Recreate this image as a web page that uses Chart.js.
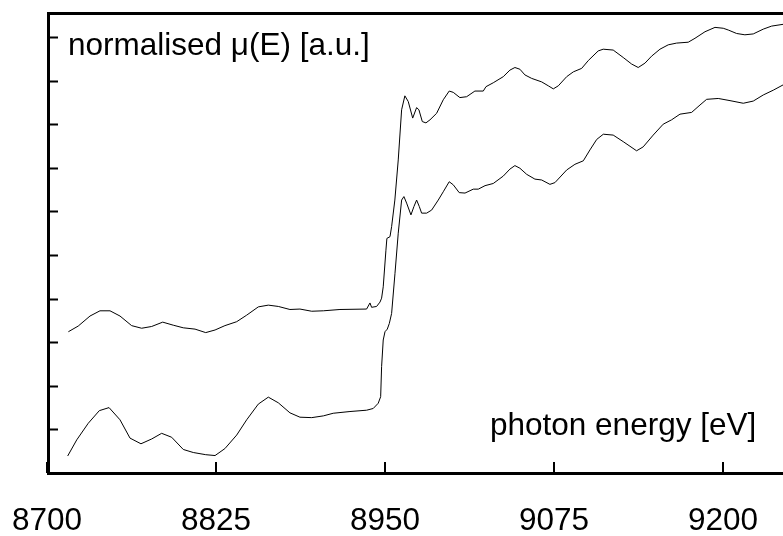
<!DOCTYPE html>
<html>
<head>
<meta charset="utf-8">
<script src="https://cdn.jsdelivr.net/npm/chart.js@4"></script>
<style>
  body { margin: 0; background: #fff; }
  #wrap { width: 783px; height: 536px; }
</style>
</head>
<body>
<div id="wrap"><canvas id="xanes"></canvas></div>
<script>
// ! data

const xTicks = [8700, 8825, 8950, 9075, 9200];
const yTicks = [1, 2, 3, 4, 5, 6, 7, 8, 9, 10];

const upperE = [
  8715.8, 8723.1, 8731.8, 8739.2, 8746.6, 8754.0, 8762.6, 8770.0, 8777.4, 8785.6,
  8793.4, 8800.8, 8809.5, 8817.4, 8824.3, 8831.6, 8840.3, 8847.7, 8856.3, 8863.7,
  8871.1, 8879.7, 8887.1, 8895.8, 8904.4, 8916.7, 8936.4, 8938.9, 8940.1, 8943.8,
  8946.3, 8947.5, 8948.7, 8950.7, 8951.4, 8953.7, 8954.9, 8957.3, 8959.8, 8962.3,
  8964.7, 8967.2, 8970.5, 8973.4, 8975.1, 8977.6, 8980.3, 8983.3, 8988.2, 8993.1,
  8997.5, 9000.5, 9005.4, 9010.4, 9016.5, 9022.7, 9024.7, 9030.1, 9037.5, 9042.4,
  9046.1, 9049.8, 9053.5, 9058.5, 9065.9, 9070.8, 9074.5, 9078.2, 9084.4, 9089.3,
  9095.5, 9100.4, 9107.7, 9111.4, 9118.8, 9126.2, 9132.4, 9137.3, 9142.3, 9147.2,
  9153.4, 9159.5, 9165.7, 9174.3, 9179.3, 9186.7, 9194.1, 9200.2, 9203.9, 9210.1,
  9216.2, 9222.4, 9229.8, 9236.0, 9244.4,
];
const upperMu = [
  3.24, 3.37, 3.60, 3.72, 3.72, 3.60, 3.38, 3.32, 3.36, 3.46,
  3.39, 3.33, 3.30, 3.22, 3.28, 3.38, 3.47, 3.62, 3.81, 3.85,
  3.82, 3.75, 3.76, 3.71, 3.72, 3.75, 3.76, 3.90, 3.80, 3.82,
  3.92, 4.01, 4.27, 5.11, 5.38, 5.42, 5.65, 6.26, 7.18, 8.33,
  8.65, 8.52, 8.14, 8.38, 8.33, 8.06, 8.03, 8.10, 8.25, 8.56,
  8.76, 8.73, 8.61, 8.63, 8.76, 8.76, 8.86, 8.95, 9.09, 9.24,
  9.30, 9.26, 9.13, 9.05, 8.97, 8.88, 8.81, 8.88, 9.09, 9.20,
  9.28, 9.46, 9.68, 9.72, 9.70, 9.53, 9.38, 9.30, 9.40, 9.56,
  9.72, 9.82, 9.86, 9.88, 9.97, 10.12, 10.22, 10.20, 10.16, 10.08,
  10.05, 10.07, 10.18, 10.25, 10.29,
];

const lowerE = [
  8715.3, 8722.0, 8730.5, 8738.7, 8745.9, 8754.0, 8761.4, 8769.5, 8777.4, 8784.8,
  8792.2, 8800.8, 8808.2, 8817.4, 8824.3, 8831.6, 8840.3, 8847.7, 8856.3, 8863.7,
  8871.1, 8879.7, 8887.1, 8895.8, 8904.4, 8911.7, 8924.1, 8936.4, 8941.3, 8945.0,
  8946.8, 8947.5, 8948.7, 8950.0, 8951.7, 8953.2, 8954.9, 8957.4, 8959.8, 8962.3,
  8964.0, 8966.0, 8969.2, 8971.4, 8973.4, 8975.4, 8977.1, 8980.8, 8984.5, 8989.4,
  8993.1, 8997.5, 9000.5, 9004.9, 9009.2, 9015.3, 9019.0, 9024.0, 9030.1, 9037.5,
  9042.4, 9046.1, 9049.8, 9054.8, 9060.9, 9065.9, 9072.0, 9075.7, 9084.4, 9090.5,
  9096.7, 9101.6, 9106.6, 9111.5, 9118.8, 9126.2, 9136.1, 9141.0, 9148.4, 9155.8,
  9162.0, 9168.2, 9176.8, 9183.0, 9187.9, 9196.5, 9205.2, 9215.0, 9222.4, 9229.8,
  9237.2, 9244.4,
];
const lowerMu = [
  0.39, 0.76, 1.14, 1.43, 1.50, 1.22, 0.80, 0.67, 0.78, 0.91,
  0.82, 0.54, 0.47, 0.42, 0.40, 0.56, 0.87, 1.22, 1.58, 1.74,
  1.61, 1.38, 1.28, 1.27, 1.31, 1.37, 1.41, 1.44, 1.48, 1.60,
  1.75, 2.44, 3.05, 3.24, 3.30, 3.43, 3.66, 4.58, 5.50, 6.26,
  6.34, 6.19, 5.92, 6.11, 6.26, 6.11, 5.96, 5.96, 6.03, 6.26,
  6.45, 6.68, 6.61, 6.43, 6.42, 6.51, 6.51, 6.59, 6.64, 6.81,
  6.97, 7.05, 6.99, 6.85, 6.74, 6.72, 6.62, 6.66, 6.95, 7.08,
  7.16, 7.41, 7.65, 7.77, 7.75, 7.60, 7.39, 7.48, 7.75, 8.00,
  8.10, 8.23, 8.27, 8.44, 8.57, 8.59, 8.54, 8.48, 8.53, 8.67,
  8.78, 8.90,
];

const FONT = "Liberation Sans, Arial, Helvetica, sans-serif";

// ! frame, inward ticks and the two captions
const framePlugin = {
  id: "frame",
  afterDraw(chart) {
    const { ctx, chartArea: a, scales } = chart;
    ctx.save();
    ctx.strokeStyle = "#000";
    ctx.lineCap = "butt";

    // ticks
    ctx.lineWidth = 2;
    ctx.beginPath();
    yTicks.forEach((v) => {
      const y = Math.round(scales.y.getPixelForValue(v)) + 0.5;
      ctx.moveTo(a.left, y);
      ctx.lineTo(a.left + 11, y);
    });
    xTicks.forEach((v) => {
      const x = Math.round(scales.x.getPixelForValue(v));
      ctx.moveTo(x, a.bottom);
      ctx.lineTo(x, a.bottom - 11);
    });
    ctx.stroke();

    // frame (right side is cut off by the picture edge)
    ctx.lineWidth = 3;
    ctx.beginPath();
    ctx.moveTo(a.right + 5, a.top + 0.5);
    ctx.lineTo(a.left + 1.5, a.top + 0.5);
    ctx.lineTo(a.left + 1.5, a.bottom + 0.5);
    ctx.lineTo(a.right + 5, a.bottom + 0.5);
    ctx.stroke();

    ctx.fillStyle = "#000";
    ctx.font = "31.5px " + FONT;
    ctx.textBaseline = "alphabetic";
    ctx.textAlign = "left";
    ctx.fillText("normalised \u03bc(E) [a.u.]", 68, 55);
    ctx.fillText("photon energy [eV]", 490, 435);
    ctx.restore();
  },
};

const ctx = document.getElementById("xanes");

new Chart(ctx, {
  type: "scatter",
  data: {
    datasets: [
      {
        label: "upper",
        data: upperE.map((e, i) => ({ x: e, y: upperMu[i] })),
        showLine: true,
        borderColor: "#000",
        borderWidth: 1,
        pointRadius: 0,
        tension: 0,
      },
      {
        label: "lower",
        data: lowerE.map((e, i) => ({ x: e, y: lowerMu[i] })),
        showLine: true,
        borderColor: "#000",
        borderWidth: 1,
        pointRadius: 0,
        tension: 0,
      },
    ],
  },
  options: {
    responsive: true,
    maintainAspectRatio: false,
    animation: false,
    layout: { padding: { left: 47, top: 13, right: 0, bottom: 0 } },
    plugins: {
      legend: { display: false },
      tooltip: { enabled: false },
    },
    scales: {
      x: {
        type: "linear",
        min: 8700,
        max: 9244.4,
        grid: { display: false, drawTicks: false },
        border: { display: false },
        afterBuildTicks: (scale) => {
          scale.ticks = xTicks.map((v) => ({ value: v }));
        },
        afterFit: (scale) => {
          scale.height = 63;
          scale.paddingLeft = 0;
          scale.paddingRight = 0;
        },
        ticks: {
          padding: 29,
          maxRotation: 0,
          autoSkip: false,
          color: "#000",
          font: { family: FONT, size: 31.5 },
          callback: (v) => String(v),
        },
      },
      y: {
        display: false,
        min: 0,
        max: 10.55,
      },
    },
  },
  plugins: [framePlugin],
});
</script>
</body>
</html>
